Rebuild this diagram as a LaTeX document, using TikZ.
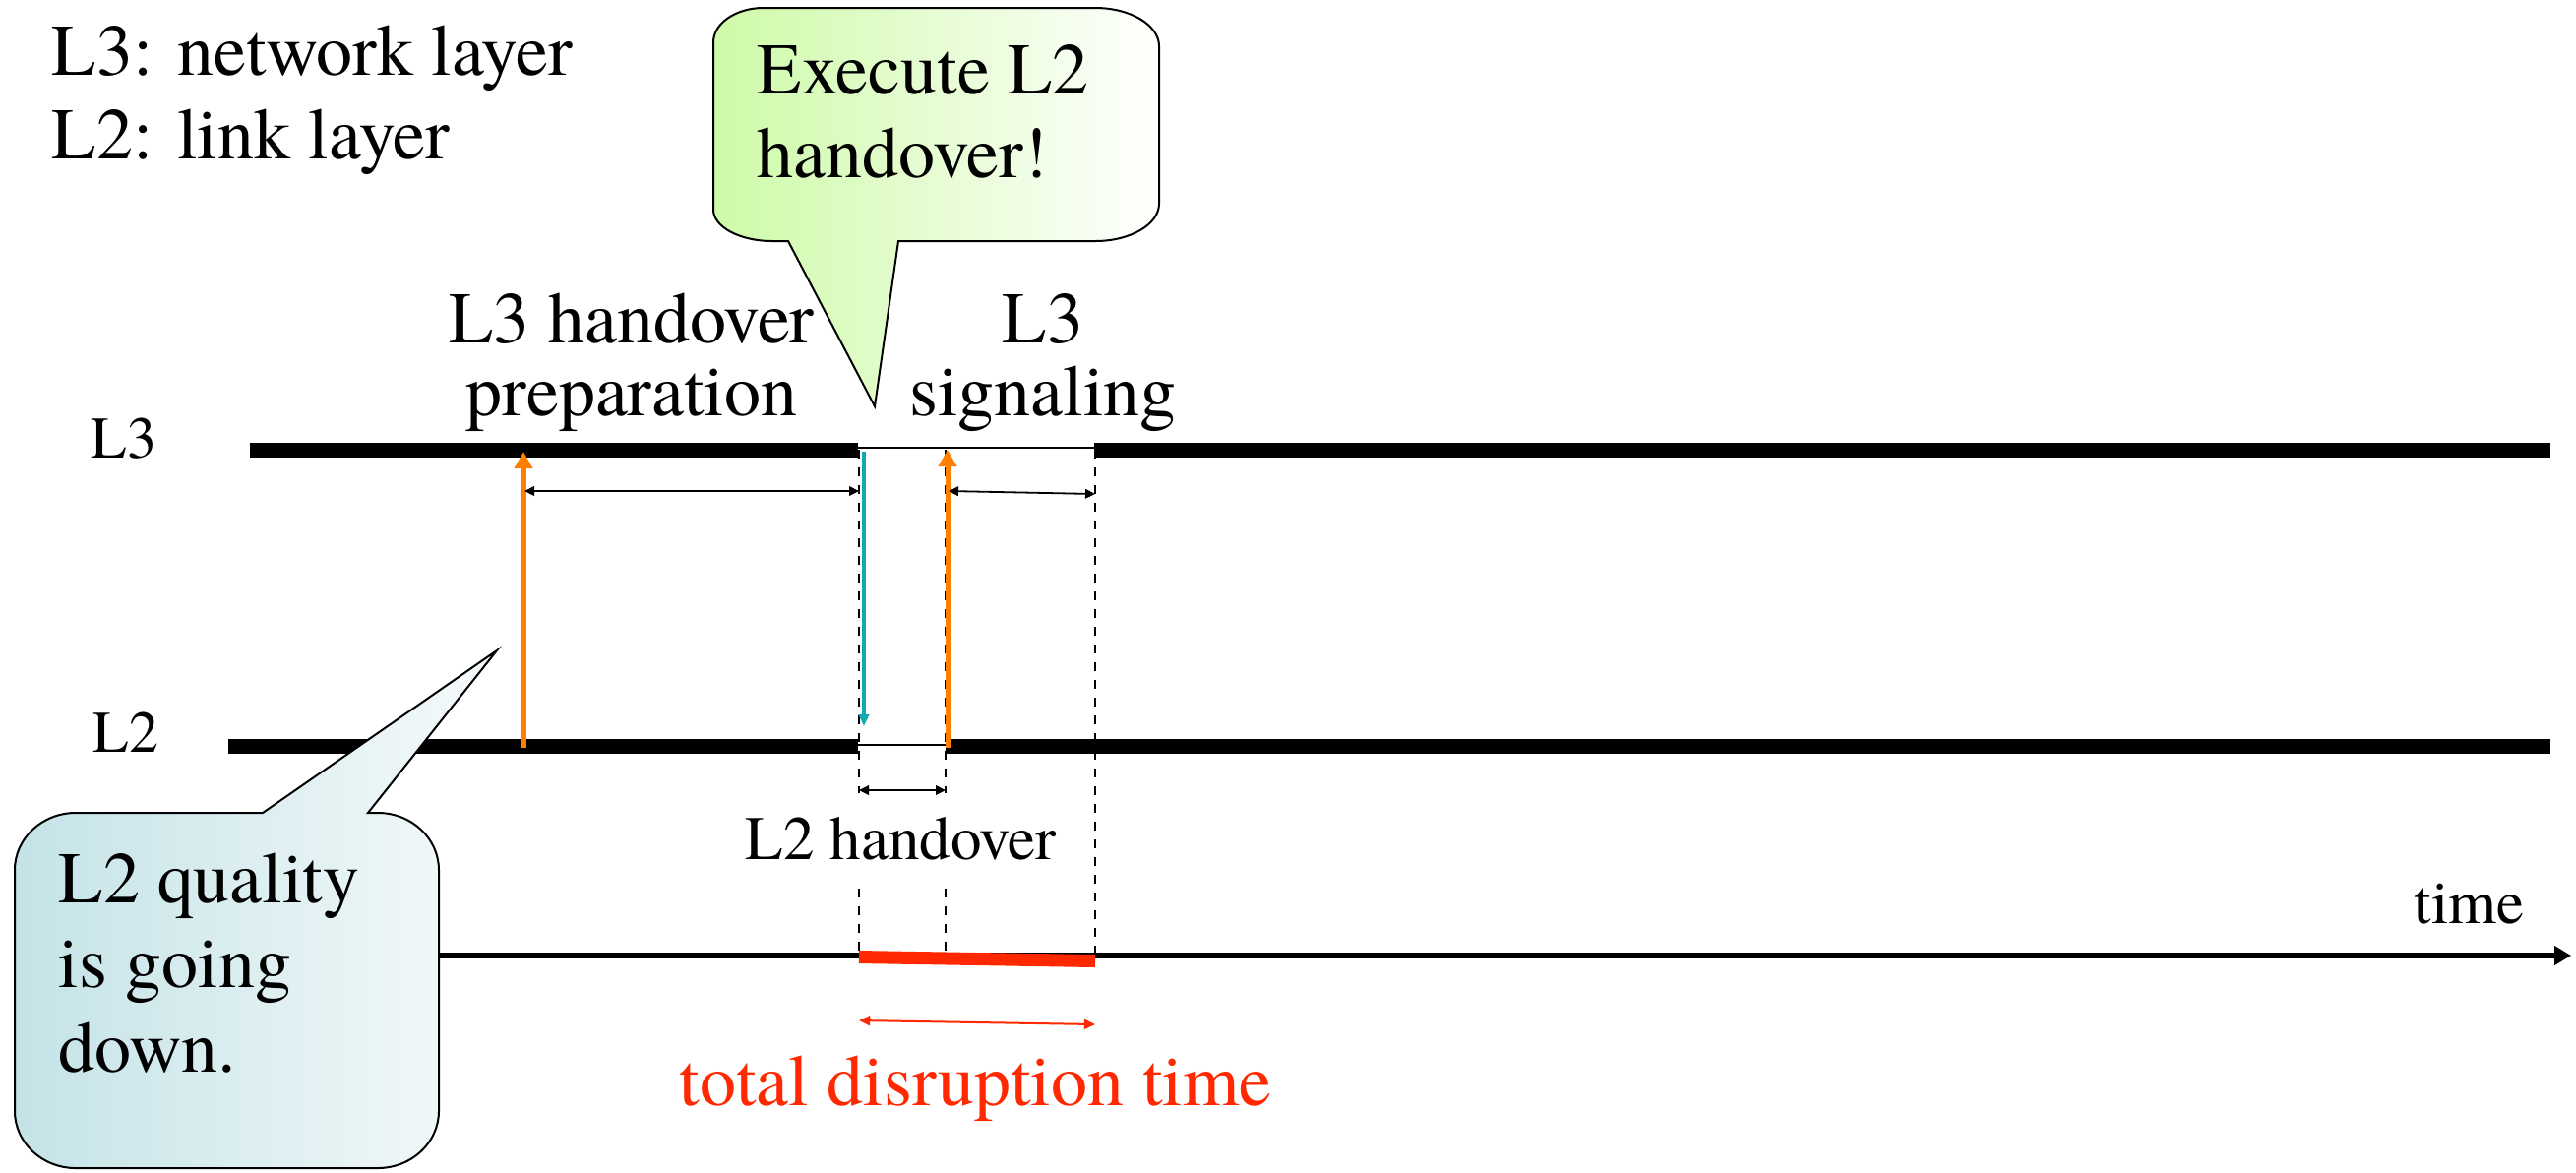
\documentclass[tikz,border=0pt]{standalone}
\usepackage{fontspec}
\setmainfont{TeX Gyre Termes}
\usetikzlibrary{arrows.meta}

\definecolor{hoOrange}{RGB}{255,128,0}
\definecolor{hoCyan}{RGB}{20,170,172}
\definecolor{hoRed}{RGB}{255,40,0}
\definecolor{tipGreen}{RGB}{206,250,168}
\definecolor{tipBlue}{RGB}{196,227,231}
\definecolor{tipBlueR}{RGB}{246,250,251}

\begin{document}
\begin{tikzpicture}[x=0.25pt,y=-0.25pt,
  bigtext/.style={font=\fontsize{18.5pt}{21pt}\selectfont, inner sep=0pt},
  smalltext/.style={font=\fontsize{15.75pt}{18pt}\selectfont, inner sep=0pt},
  sidetext/.style={font=\fontsize{15pt}{18pt}\selectfont, inner sep=0pt},
  layerbar/.style={line width=3.75pt},
  gapline/.style={line width=0.7pt},
  guide/.style={line width=0.5pt, dash pattern=on 2.25pt off 2.25pt},
  span/.style={line width=0.45pt,
    {Triangle[length=2.5pt,width=2.4pt]}-{Triangle[length=2.5pt,width=2.4pt]}},
  trigger/.style={hoOrange, line width=1.25pt, -{Triangle[length=4.25pt,width=4.5pt]}},
  command/.style={hoCyan, line width=0.8pt, -{Triangle[length=3pt,width=2.6pt]}},
  callout/.style={draw=black, line width=0.5pt},
]
\useasboundingbox (0,0) rectangle (2618,1191);

% ---- time instants ----
\coordinate (l3start) at (254,457);
\coordinate (l3cut)   at (872,457);
\coordinate (l3back)  at (1112,457);
\coordinate (l3end)   at (2592,457);
\coordinate (l3thinA) at (872,455);
\coordinate (l3thinB) at (1112,455);
\coordinate (l2start) at (232,758);
\coordinate (l2cut)   at (872,758);
\coordinate (l2back)  at (961,758);
\coordinate (l2end)   at (2592,758);
\coordinate (l2thinA) at (872,757);
\coordinate (l2thinB) at (961,757);

% ---- vertical guides (broken around the L2 handover label) ----
\coordinate (gAtop) at (873,457);  \coordinate (gAmid1) at (873,806);
\coordinate (gAmid2) at (873,903); \coordinate (gAbot) at (873,971);
\coordinate (gBtop) at (961,457);  \coordinate (gBmid1) at (961,806);
\coordinate (gBmid2) at (961,903); \coordinate (gBbot) at (961,971);
\coordinate (gCtop) at (1113,457); \coordinate (gCbot) at (1113,971);
\draw[guide] (gAtop) -- (gAmid1);
\draw[guide] (gAmid2) -- (gAbot);
\draw[guide] (gBtop) -- (gBmid1);
\draw[guide] (gBmid2) -- (gBbot);
\draw[guide] (gCtop) -- (gCbot);

% ---- layer timelines ----
\draw[layerbar] (l3start) -- (l3cut);
\draw[gapline]  (l3thinA) -- (l3thinB);
\draw[layerbar] (l3back) -- (l3end);
\draw[layerbar] (l2start) -- (l2cut);
\draw[gapline]  (l2thinA) -- (l2thinB);
\draw[layerbar] (l2back) -- (l2end);

% ---- events between layers ----
\coordinate (trigAfrom) at (532,760); \coordinate (trigAto) at (532,459);
\coordinate (cmdfrom) at (878,459);   \coordinate (cmdto) at (878,738);
\coordinate (trigBfrom) at (963,760); \coordinate (trigBto) at (963,457);
\draw[trigger] (trigAfrom) -- (trigAto);
\draw[command] (cmdfrom) -- (cmdto);
\draw[trigger] (trigBfrom) -- (trigBto);

% ---- durations ----
\coordinate (prepL) at (533,499);  \coordinate (prepR) at (873,499);
\coordinate (sigL)  at (964,499);  \coordinate (sigR)  at (1113,502);
\coordinate (l2hoL) at (873,803);  \coordinate (l2hoR) at (961,803);
\draw[span] (prepL) -- (prepR);
\draw[span] (sigL) -- (sigR);
\draw[span] (l2hoL) -- (l2hoR);

% ---- time axis and disruption ----
\coordinate (axisL) at (440,971);  \coordinate (axisR) at (2613,971);
\draw[line width=1.5pt, -{Triangle[length=4.25pt,width=4.75pt]}] (axisL) -- (axisR);
\coordinate (cutL) at (873,972.5); \coordinate (cutR) at (1113,976.5);
\draw[hoRed, line width=3.25pt] (cutL) -- (cutR);
\coordinate (totL) at (873,1037);  \coordinate (totR) at (1113,1041);
\draw[hoRed, line width=0.5pt,
  {Triangle[length=2.8pt,width=2.5pt]}-{Triangle[length=2.8pt,width=2.5pt]}] (totL) -- (totR);

% ---- labels ----
\node[smalltext, anchor=base west] (l2ho) at (757,873) {L2 handover};
\node[smalltext, anchor=base west] (timelbl) at (2453,938) {time};
\node[sidetext, anchor=base west] (lblL3) at (92,465) {L3};
\node[sidetext, anchor=base west] (lblL2) at (94,764) {L2};
\node[bigtext, anchor=base west] (legendA) at (52,76) {L3: network layer};
\node[bigtext, anchor=base west] (legendB) at (52,161) {L2: link layer};
\node[bigtext, anchor=base] (prepA) at (642,348) {L3 handover};
\node[bigtext, anchor=base] (prepB) at (642,422) {preparation};
\node[bigtext, anchor=base] (sigA) at (1060,348) {L3};
\node[bigtext, anchor=base] (sigB) at (1060,422) {signaling};
\node[bigtext, anchor=base west, text=hoRed] (total) at (690,1123) {total disruption time};

% ---- callout: execute L2 handover ----
\path[callout, left color=tipGreen, right color=white]
  (801,245) -- (889,413) -- (913,245) -- (1113,245)
  arc[start angle=270, end angle=360, x radius=16.25pt, y radius=9.5pt]
  -- (1178,47)
  arc[start angle=0, end angle=90, x radius=16.25pt, y radius=9.75pt]
  -- (776,8)
  arc[start angle=90, end angle=180, x radius=12.75pt, y radius=8.75pt]
  -- (725,213)
  arc[start angle=180, end angle=270, x radius=15pt, y radius=8pt]
  -- cycle;
\node[bigtext, anchor=base west] (execA) at (769,95) {Execute L2};
\node[bigtext, anchor=base west] (execB) at (769,180) {handover!};

% ---- callout: L2 quality is going down ----
\path[callout, left color=tipBlue, right color=tipBlueR]
  (267,826) -- (505,661) -- (374,826) -- (384,826)
  arc[start angle=90, end angle=0, x radius=15.5pt, y radius=14.5pt]
  -- (446,1129)
  arc[start angle=0, end angle=-90, x radius=15.5pt, y radius=14.5pt]
  -- (77,1187)
  arc[start angle=270, end angle=180, x radius=15.5pt, y radius=14.5pt]
  -- (15,884)
  arc[start angle=180, end angle=90, x radius=15.5pt, y radius=14.5pt]
  -- cycle;
\node[bigtext, anchor=base west] (qualA) at (59,917) {L2 quality};
\node[bigtext, anchor=base west] (qualB) at (59,1003) {is going};
\node[bigtext, anchor=base west] (qualC) at (59,1089) {down.};
\end{tikzpicture}
\end{document}
